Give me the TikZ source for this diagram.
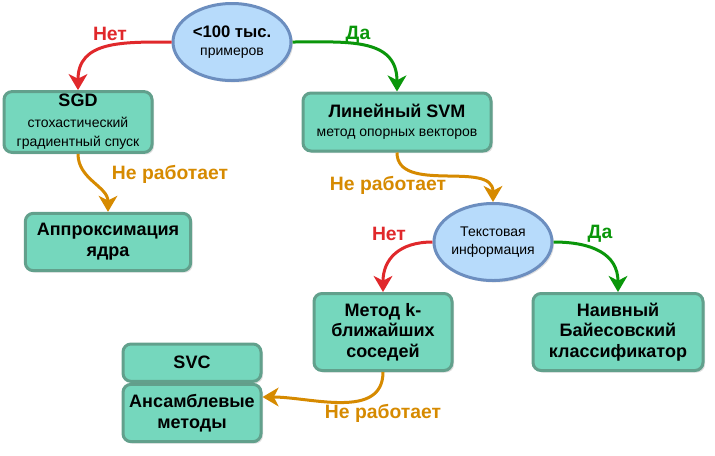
\documentclass[tikz,border=0pt]{standalone}
\usepackage{fontspec}
\setmainfont{Liberation Sans}
\usepackage{xcolor}
\usetikzlibrary{shapes.geometric, arrows.meta, positioning, shadows}

\definecolor{boxfill}{HTML}{75D7BD}
\definecolor{boxline}{HTML}{62A08C}
\definecolor{askfill}{HTML}{B7DBFB}
\definecolor{askline}{HTML}{6C8EBF}
\definecolor{nored}{HTML}{E0282B}
\definecolor{yesgreen}{HTML}{0A960A}
\definecolor{failorange}{HTML}{D68A00}

\newcommand\boxfont{\fontsize{13.5}{15.5}\selectfont\bfseries}
\newcommand\askfont{\fontsize{12.5}{15}\selectfont\bfseries}
\newcommand\subfont{\fontsize{10.5}{12.5}\selectfont\mdseries}
\newcommand\lblfont{\fontsize{14.5}{17}\selectfont\bfseries}

\begin{document}
\begin{tikzpicture}[
  x=0.75pt, y=-0.75pt,
  box/.style={rectangle, rounded corners=6pt, draw=boxline, fill=boxfill,
              line width=2.25pt, align=center, inner sep=2pt, font=\boxfont,
              drop shadow={shadow xshift=1.5pt, shadow yshift=-1.5pt, opacity=0.25}},
  ask/.style={ellipse, draw=askline, fill=askfill, line width=2.25pt,
              align=center, inner sep=0pt, minimum width=88.5pt, minimum height=57.75pt,
              drop shadow={shadow xshift=1.5pt, shadow yshift=-1.5pt, opacity=0.25}},
  arrow/.style={-{Stealth[length=12pt, width=14pt, inset=3.5pt]}, line width=2.25pt},
  lbl/.style={font=\lblfont, inner sep=0pt}
]
\useasboundingbox (0,0) rectangle (715,455);

% questions
\node[ask] (q1) at (232,42) {{\askfont <100 тыс.}\\[2pt]{\subfont примеров}};
\node[ask] (q2) at (493,242) {\subfont Текстовая\\[1pt]\subfont информация};

% methods
\node[box, minimum width=111pt, minimum height=44pt] (sgd) at (78,122)
  {SGD\\[0pt]{\subfont стохастический}\\[-1pt]{\subfont градиентный спуск}};
\node[box, minimum width=141pt, minimum height=43.5pt] (svm) at (397,122)
  {Линейный SVM\\[-1pt]{\subfont метод опорных векторов}};
\node[box, minimum width=124pt, minimum height=43pt] (kern) at (108,242)
  {Аппроксимация\\ядра};
\node[box, minimum width=103.5pt, minimum height=57.75pt] (knn) at (383,332)
  {Метод k-\\ближайших\\соседей};
\node[box, minimum width=127.5pt, minimum height=57.75pt] (bayes) at (618,332)
  {Наивный\\Байесовский\\классификатор};
\node[box, minimum width=103.5pt, minimum height=43pt] (ens) at (192,413)
  {Ансамблевые\\методы};
\node[box, minimum width=103.5pt, minimum height=28pt, above=0pt of ens] (svc) {SVC};

% connectors
\draw[arrow, nored] (q1.west) to[out=180, in=90, looseness=1.2] (sgd.north);
\draw[arrow, yesgreen] (q1.east) to[out=0, in=90, looseness=1.2] (svm.north);
\draw[arrow, failorange] (sgd.south) to[out=-90, in=90] (kern.north);
\draw[arrow, failorange] (svm.south) to[out=-90, in=90] (q2.north);
\draw[arrow, nored] (q2.west) to[out=180, in=90, looseness=1.2] (knn.north);
\draw[arrow, yesgreen] (q2.east) to[out=0, in=90, looseness=1.2] (bayes.north);
\draw[arrow, failorange] (knn.south) to[out=-90, in=0] ([yshift=12pt]ens.east);

% labels
\node[lbl, nored] (n1) at (110,34) {Нет};
\node[lbl, yesgreen] (y1) at (358,35) {Да};
\node[lbl, failorange] (f1) at (170,174) {Не работает};
\node[lbl, failorange] (f2) at (388,185) {Не работает};
\node[lbl, nored] (n2) at (389,234) {Нет};
\node[lbl, yesgreen] (y2) at (600,234) {Да};
\node[lbl, failorange] (f3) at (383,413) {Не работает};
\end{tikzpicture}
\end{document}
